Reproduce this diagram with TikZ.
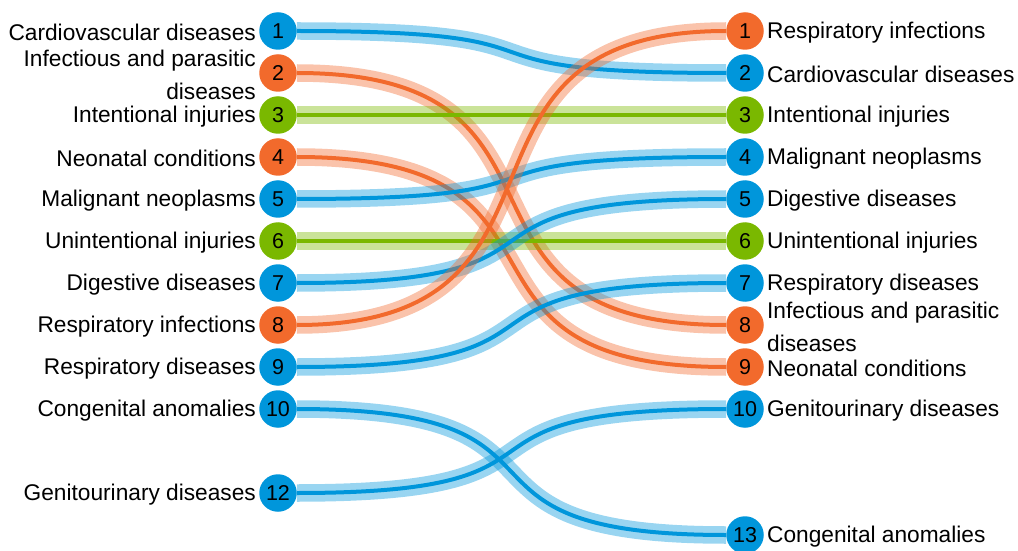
\documentclass[tikz,border=0pt]{standalone}
\usepackage{fontspec}
\setmainfont{Liberation Sans}
\usetikzlibrary{positioning,backgrounds}
\definecolor{cblue}{HTML}{0096DB}
\definecolor{corange}{HTML}{F26A2C}
\definecolor{cgreen}{HTML}{7AB800}
\tikzset{
    rank/.style={
           circle,
           fill=#1,
           minimum size=37.5pt,
           inner sep=0pt,
           font=\fontsize{21.5}{21.5}\selectfont
           },
    lefttext/.style={
           anchor=east,
           inner sep=0pt,
           xshift=-3pt,
           yshift=-1.5pt,
           align=right,
           font=\fontsize{22.7}{33}\selectfont
           },
    righttext/.style={
           anchor=west,
           inner sep=0pt,
           xshift=3pt,
           yshift=-1.5pt,
           align=left,
           font=\fontsize{22.7}{33}\selectfont
           },
    link/.style={
           draw=#1,
           line width=4pt,
           preaction={draw=#1, draw opacity=.4, line width=17.5pt},
           to path={.. controls +(327pt,0) and +(-327pt,0) .. (\tikztotarget)}
           }
}

\begin{document}
\begin{tikzpicture}[node distance=42pt, on grid]
   \useasboundingbox (0,0) rectangle (1018pt,550pt);
   % left column
   \node[rank=cblue] (l1) at (278pt,519pt) {1};
   \node[rank=corange] (l2) [below=of l1] {2};
   \node[rank=cgreen] (l3) [below=of l2] {3};
   \node[rank=corange] (l4) [below=of l3] {4};
   \node[rank=cblue] (l5) [below=of l4] {5};
   \node[rank=cgreen] (l6) [below=of l5] {6};
   \node[rank=cblue] (l7) [below=of l6] {7};
   \node[rank=corange] (l8) [below=of l7] {8};
   \node[rank=cblue] (l9) [below=of l8] {9};
   \node[rank=cblue] (l10) [below=of l9] {10};
   \node[rank=cblue] (l12) [below=84pt of l10] {12};
   % right column
   \node[rank=corange] (r1) [right=467pt of l1] {1};
   \node[rank=cblue] (r2) [below=of r1] {2};
   \node[rank=cgreen] (r3) [below=of r2] {3};
   \node[rank=cblue] (r4) [below=of r3] {4};
   \node[rank=cblue] (r5) [below=of r4] {5};
   \node[rank=cgreen] (r6) [below=of r5] {6};
   \node[rank=cblue] (r7) [below=of r6] {7};
   \node[rank=corange] (r8) [below=of r7] {8};
   \node[rank=corange] (r9) [below=of r8] {9};
   \node[rank=cblue] (r10) [below=of r9] {10};
   \node[rank=cblue] (r13) [below=126pt of r10] {13};
   % labels
   \node[lefttext] at (l1.west) {Cardiovascular diseases};
   \node[lefttext] at (l2.west) {Infectious and parasitic\\diseases};
   \node[lefttext] at (l3.west) {Intentional injuries};
   \node[lefttext] at (l4.west) {Neonatal conditions};
   \node[lefttext] at (l5.west) {Malignant neoplasms};
   \node[lefttext] at (l6.west) {Unintentional injuries};
   \node[lefttext] at (l7.west) {Digestive diseases};
   \node[lefttext] at (l8.west) {Respiratory infections};
   \node[lefttext] at (l9.west) {Respiratory diseases};
   \node[lefttext] at (l10.west) {Congenital anomalies};
   \node[lefttext] at (l12.west) {Genitourinary diseases};
   \node[righttext] at (r1.east) {Respiratory infections};
   \node[righttext] at (r2.east) {Cardiovascular diseases};
   \node[righttext] at (r3.east) {Intentional injuries};
   \node[righttext] at (r4.east) {Malignant neoplasms};
   \node[righttext] at (r5.east) {Digestive diseases};
   \node[righttext] at (r6.east) {Unintentional injuries};
   \node[righttext] at (r7.east) {Respiratory diseases};
   \node[righttext] at (r8.east) {Infectious and parasitic\\diseases};
   \node[righttext] at (r9.east) {Neonatal conditions};
   \node[righttext] at (r10.east) {Genitourinary diseases};
   \node[righttext] at (r13.east) {Congenital anomalies};
   % links
   \begin{scope}[on background layer]
   \path
    (l1) edge[link=cblue] (r2)
    (l2) edge[link=corange] (r8)
    (l3) edge[link=cgreen] (r3)
    (l4) edge[link=corange] (r9)
    (l5) edge[link=cblue] (r4)
    (l6) edge[link=cgreen] (r6)
    (l7) edge[link=cblue] (r5)
    (l8) edge[link=corange] (r1)
    (l9) edge[link=cblue] (r7)
    (l10) edge[link=cblue] (r13)
    (l12) edge[link=cblue] (r10);
   \end{scope}
\end{tikzpicture}
\end{document}
